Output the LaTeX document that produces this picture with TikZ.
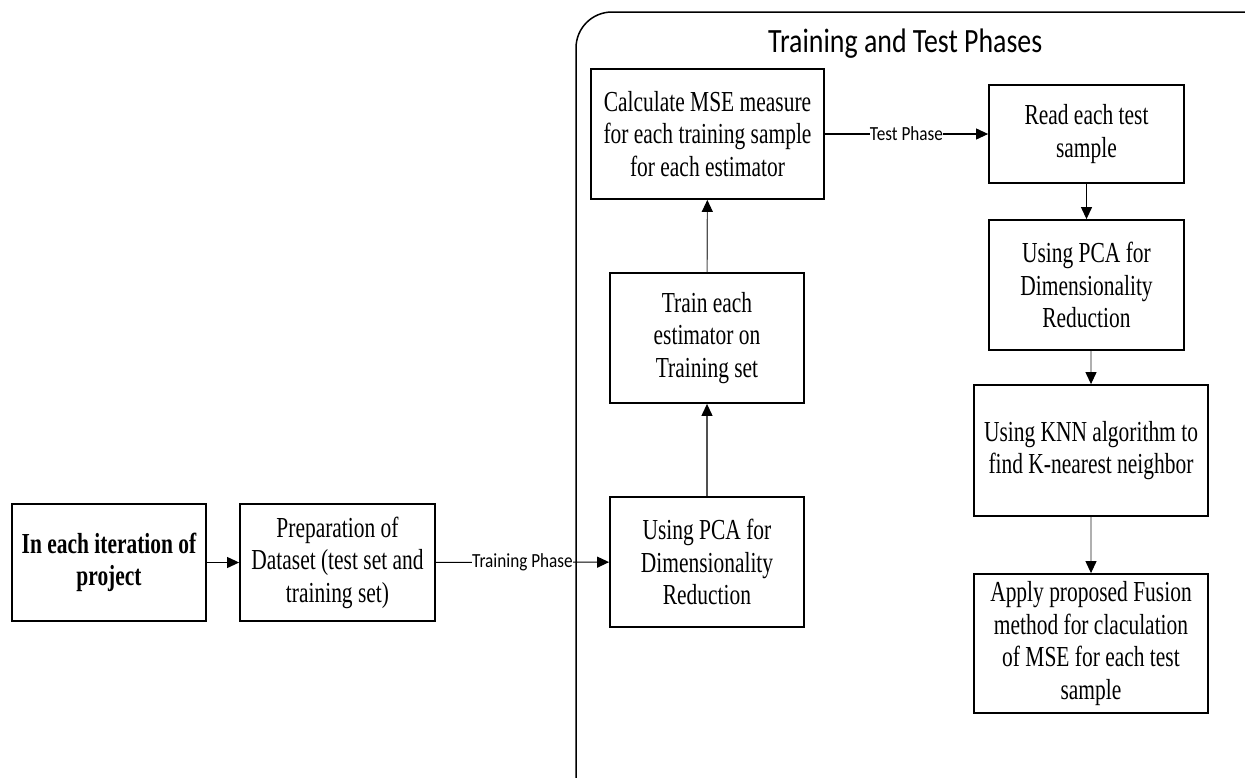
\documentclass[tikz,border=0pt]{standalone}
\usepackage{fontspec}
\newfontfamily\serfont[FakeStretch=0.74]{Liberation Serif}
\newfontfamily\titfont[FakeStretch=0.82]{Carlito}
\newfontfamily\labfont[FakeStretch=0.86]{Carlito}
\usetikzlibrary{arrows.meta}
\definecolor{darkline}{HTML}{505050}
\definecolor{lightline}{HTML}{B0B0B0}
\begin{document}
\begin{tikzpicture}[x=1pt,y=-1pt,
  box/.style={draw=black, line width=1.8pt, align=center, inner sep=0pt,
    font=\fontsize{29}{32.5}\selectfont\serfont},
  arr/.style={-{Triangle[length=12pt,width=11pt,color=black]}, line width=1.1pt},
  lab/.style={fill=white, inner sep=0pt, font=\fontsize{20}{24}\selectfont\labfont},
  frame/.style={line width=1.5pt, rounded corners=36pt}]
\useasboundingbox (0,0) rectangle (1245,777);
\begin{scope}
\clip (0,0) rectangle (1245,777);
\draw[frame] (576,12) rectangle (1320,840);
\end{scope}
\node[anchor=base west, inner sep=0pt, font=\fontsize{34}{40}\selectfont\titfont] (title) at (768,52) {Training and Test Phases};

\node[box, minimum width=194pt, minimum height=117pt, font=\fontsize{29}{32.5}\selectfont\serfont\bfseries] (B1) at (109,562.5) {In each iteration of\\project};
\node[box, minimum width=195pt, minimum height=117pt] (B2) at (337.5,562.5) {Preparation of\\Dataset (test set and\\training set)};
\node[box, minimum width=194pt, minimum height=130pt] (B3) at (707,562) {Using PCA for\\Dimensionality\\Reduction};
\node[box, minimum width=194pt, minimum height=130pt] (B4) at (707,338) {Train each\\estimator on\\Training set};
\node[box, minimum width=233pt, minimum height=130pt] (C1) at (707.5,134) {Calculate MSE measure\\for each training sample\\for each estimator};
\node[box, minimum width=195pt, minimum height=98pt] (R1) at (1086.5,134) {Read each test\\sample};
\node[box, minimum width=195pt, minimum height=130pt] (R2) at (1086.5,285) {Using PCA for\\Dimensionality\\Reduction};
\node[box, minimum width=234pt, minimum height=131pt] (R3) at (1091,450.5) {Using KNN algorithm to\\find K-nearest neighbor};
\node[box, minimum width=234pt, minimum height=139pt] (R4) at (1091,643.5) {Apply proposed Fusion\\method for claculation\\of MSE for each test\\sample};

\draw[arr] (B1) -- (B2);
\draw[arr] (B2) -- node[lab] {Training Phase} (B3);
\draw[arr, draw=darkline] (B3) -- (B4);
\draw[arr, draw=darkline] (B4) -- (C1);
\draw[arr] (C1) -- node[lab] {Test Phase} (R1);
\draw[arr] (R1) -- (R2);
\draw[arr, draw=lightline] (R2.south -| R3.north) -- (R3.north);
\draw[arr, draw=lightline] (R3) -- (R4);
\end{tikzpicture}
\end{document}
